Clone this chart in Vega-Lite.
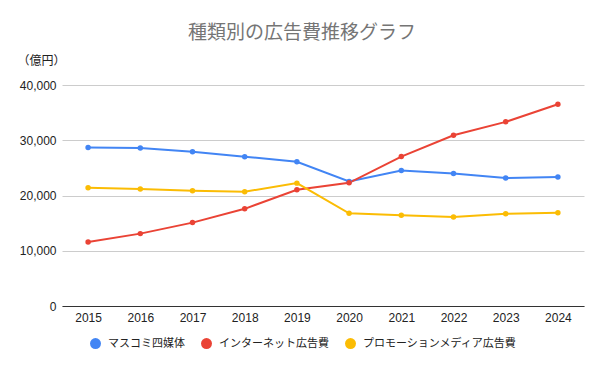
{
  "$schema": "https://vega.github.io/schema/vega-lite/v6.json",
  "autosize": {"type": "none"},
  "width": 522,
  "height": 221,
  "padding": {"left": 62, "top": 85, "right": 16, "bottom": 65},
  "background": "white",
  "config": {
    "font": "Roboto, Noto Sans CJK JP",
    "view": {"stroke": null}
  },
  "title": {
    "text": "種類別の広告費推移グラフ",
    "font": "Noto Sans CJK JP",
    "fontSize": 19,
    "fontWeight": "normal",
    "color": "#757575",
    "anchor": "middle",
    "dx": -21,
    "offset": 11
  },
  "data": {
    "values": [
      {"year": "2015", "series": "マスコミ四媒体", "value": 28699},
      {"year": "2016", "series": "マスコミ四媒体", "value": 28596},
      {"year": "2017", "series": "マスコミ四媒体", "value": 27938},
      {"year": "2018", "series": "マスコミ四媒体", "value": 27026},
      {"year": "2019", "series": "マスコミ四媒体", "value": 26094},
      {"year": "2020", "series": "マスコミ四媒体", "value": 22536},
      {"year": "2021", "series": "マスコミ四媒体", "value": 24538},
      {"year": "2022", "series": "マスコミ四媒体", "value": 23985},
      {"year": "2023", "series": "マスコミ四媒体", "value": 23161},
      {"year": "2024", "series": "マスコミ四媒体", "value": 23363},
      {"year": "2015", "series": "インターネット広告費", "value": 11594},
      {"year": "2016", "series": "インターネット広告費", "value": 13100},
      {"year": "2017", "series": "インターネット広告費", "value": 15094},
      {"year": "2018", "series": "インターネット広告費", "value": 17589},
      {"year": "2019", "series": "インターネット広告費", "value": 21048},
      {"year": "2020", "series": "インターネット広告費", "value": 22290},
      {"year": "2021", "series": "インターネット広告費", "value": 27052},
      {"year": "2022", "series": "インターネット広告費", "value": 30912},
      {"year": "2023", "series": "インターネット広告費", "value": 33330},
      {"year": "2024", "series": "インターネット広告費", "value": 36517},
      {"year": "2015", "series": "プロモーションメディア広告費", "value": 21417},
      {"year": "2016", "series": "プロモーションメディア広告費", "value": 21184},
      {"year": "2017", "series": "プロモーションメディア広告費", "value": 20875},
      {"year": "2018", "series": "プロモーションメディア広告費", "value": 20685},
      {"year": "2019", "series": "プロモーションメディア広告費", "value": 22239},
      {"year": "2020", "series": "プロモーションメディア広告費", "value": 16768},
      {"year": "2021", "series": "プロモーションメディア広告費", "value": 16408},
      {"year": "2022", "series": "プロモーションメディア広告費", "value": 16124},
      {"year": "2023", "series": "プロモーションメディア広告費", "value": 16690},
      {"year": "2024", "series": "プロモーションメディア広告費", "value": 16886}
    ]
  },
  "mark": {"type": "line", "strokeWidth": 2, "point": {"size": 30, "filled": true, "opacity": 1}},
  "encoding": {
    "x": {
      "field": "year",
      "type": "ordinal",
      "scale": {"type": "point", "padding": 0.5},
      "axis": {
        "title": null,
        "labelAngle": 0,
        "labelFont": "Liberation Sans",
        "labelFontSize": 12,
        "labelColor": "#222222",
        "labelPadding": 6,
        "ticks": false,
        "domain": true,
        "domainColor": "#333333",
        "domainWidth": 1,
        "grid": false
      }
    },
    "y": {
      "field": "value",
      "type": "quantitative",
      "scale": {"domain": [0, 40000], "nice": false},
      "axis": {
        "values": [0, 10000, 20000, 30000, 40000],
        "format": ",d",
        "title": "（億円）",
        "titleAngle": 0,
        "titleAlign": "left",
        "titleBaseline": "middle",
        "titleX": -45,
        "titleY": -25,
        "titleFont": "Noto Sans CJK JP",
        "titleFontSize": 12,
        "titleFontWeight": "normal",
        "titleColor": "#222222",
        "labelFont": "Liberation Sans",
        "labelFontSize": 12,
        "labelColor": "#222222",
        "labelPadding": 6,
        "ticks": false,
        "domain": false,
        "gridColor": "#cccccc",
        "gridWidth": 1
      }
    },
    "color": {
      "field": "series",
      "type": "nominal",
      "sort": ["マスコミ四媒体", "インターネット広告費", "プロモーションメディア広告費"],
      "scale": {
        "domain": ["マスコミ四媒体", "インターネット広告費", "プロモーションメディア広告費"],
        "range": ["#4285F4", "#EA4335", "#FBBC04"]
      },
      "legend": {
        "title": null,
        "orient": "none",
        "direction": "horizontal",
        "legendX": 28,
        "legendY": 253,
        "symbolType": "circle",
        "symbolSize": 120,
        "symbolStrokeWidth": 0,
        "labelFont": "Noto Sans CJK JP",
        "labelFontSize": 11,
        "labelLimit": 300,
        "labelColor": "#222222",
        "columnPadding": 16,
        "labelOffset": 7
      }
    }
  }
}
